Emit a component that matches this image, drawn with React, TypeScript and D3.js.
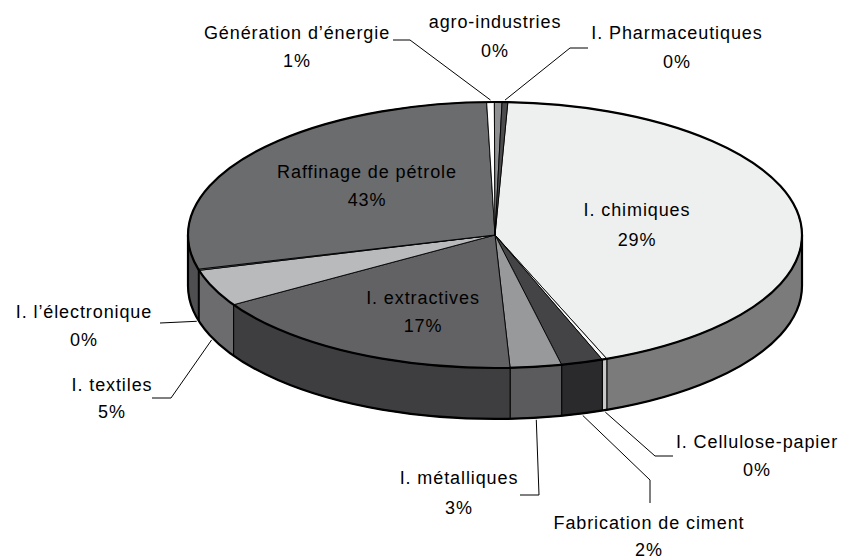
import React from "react";
import * as d3 from "d3";

// sectors in drawing order, clockwise from 12 o'clock
const sectors = [
  "I. chimiques",
  "I. Cellulose-papier",
  "Fabrication de ciment",
  "I. métalliques",
  "I. extractives",
  "I. textiles",
  "I. l’électronique",
  "Raffinage de pétrole",
  "Génération d’énergie",
  "agro-industries",
  "I. Pharmaceutiques",
];
// slice sizes as they appear in the picture (%)
const shares = [43.4, 0.25, 2.2, 2.7, 17.0, 4.5, 0.15, 28.7, 0.4, 0.4, 0.3];
// percentages printed on the labels
const printed = ["29%", "0%", "2%", "3%", "17%", "5%", "0%", "43%", "1%", "0%", "0%"];

const topColors = ["#eef0ef", "#f7f7f7", "#444446", "#98999b", "#626264", "#b9babc", "#8a8b8d", "#6b6c6e", "#ffffff", "#8f9092", "#4c4c4e"];
const sideColors = ["#7b7b7b", "#c8c8c8", "#2a2a2c", "#5b5b5d", "#3e3e40", "#6c6c6e", "#555557", "#4f4f51", "#bbbbbb", "#5a5a5c", "#303032"];

// label placement (text centre of name line, y of percent line, leader bends)
const labelLayout = [
  { x: 637, y: 210, py: 240, leader: null },
  { x: 757, y: 442, py: 470, leader: [[673, 456], [655, 456]] },
  { x: 649, y: 523, py: 550, leader: [[650, 503], [650, 480]] },
  { x: 459, y: 478, py: 508, leader: [[520, 495], [539, 495]] },
  { x: 423, y: 298, py: 326, leader: null },
  { x: 112, y: 385, py: 412, leader: [[152, 398], [171, 398]] },
  { x: 84, y: 312, py: 340, leader: [[160, 323]] },
  { x: 367, y: 172, py: 200, leader: null },
  { x: 297, y: 33, py: 61, leader: [[393, 40], [410, 40]] },
  { x: 495, y: 22, py: 51, leader: null },
  { x: 677, y: 33, py: 62, leader: [[588, 48], [570, 48]] },
];

const W = 841, H = 560;
const cx = 495, cy = 235, rx = 307, ry = 133, depth = 51;
const startDeg = 2.4;

const pt = (a: number, z = 0, grow = 0): [number, number] => [
  cx + (rx + grow) * Math.sin(a),
  cy - (ry + grow) * Math.cos(a) + z,
];
const f = (p: [number, number]) => `${p[0].toFixed(2)},${p[1].toFixed(2)}`;

export default function App() {
  const toRad = d3.scaleLinear().domain([0, 360]).range([0, 2 * Math.PI]);
  const start = toRad(startDeg);
  const arcs = d3.pie<number>().sort(null).value((d) => d)
    .startAngle(start).endAngle(start + 2 * Math.PI)(shares);

  const front0 = Math.PI / 2, front1 = (3 * Math.PI) / 2;

  const sides = arcs.map((a, i) => {
    const s = Math.max(a.startAngle, front0);
    const e = Math.min(a.endAngle, front1);
    if (e <= s) return null;
    const d = `M${f(pt(s))}A${rx},${ry} 0 0 1 ${f(pt(e))}L${f(pt(e, depth))}A${rx},${ry} 0 0 0 ${f(pt(s, depth))}Z`;
    return <path key={"s" + i} d={d} fill={sideColors[i]} stroke="#000" strokeWidth={1} strokeLinejoin="round" />;
  });

  const tops = arcs.map((a, i) => {
    const large = a.endAngle - a.startAngle > Math.PI ? 1 : 0;
    const d = `M${cx},${cy}L${f(pt(a.startAngle))}A${rx},${ry} 0 ${large} 1 ${f(pt(a.endAngle))}Z`;
    return <path key={"t" + i} d={d} fill={topColors[i]} stroke="#000" strokeWidth={0.9} strokeLinejoin="round" />;
  });

  const outline = `M${f(pt(front0))}L${f(pt(front0, depth))}A${rx},${ry} 0 0 1 ${f(pt(front1, depth))}L${f(pt(front1))}`;

  const textStyle = { fontFamily: "'Liberation Sans', Arial, sans-serif", fontSize: 18, letterSpacing: 0.9, fill: "#000" } as const;

  const labels = arcs.map((a, i) => {
    const L = labelLayout[i];
    const mid = (a.startAngle + a.endAngle) / 2;
    const isFront = Math.cos(mid) < 0;
    const end = pt(mid, isFront ? depth : 0, 2);
    return (
      <g key={"l" + i}>
        {L.leader && (
          <polyline points={[...L.leader, end].map((p) => p.join(",")).join(" ")} fill="none" stroke="#000" strokeWidth={1} />
        )}
        <text x={L.x} y={L.y} dy="0.35em" textAnchor="middle" style={textStyle}>{sectors[i]}</text>
        <text x={L.x} y={L.py} dy="0.35em" textAnchor="middle" style={textStyle}>{printed[i]}</text>
      </g>
    );
  });

  return (
    <svg width={W} height={H} style={{ position: "absolute", left: 0, top: 0, background: "#fff" }}>
      {sides}
      <path d={outline} fill="none" stroke="#000" strokeWidth={2.2} />
      {tops}
      <ellipse cx={cx} cy={cy} rx={rx} ry={ry} fill="none" stroke="#000" strokeWidth={2.2} />
      {labels}
    </svg>
  );
}
